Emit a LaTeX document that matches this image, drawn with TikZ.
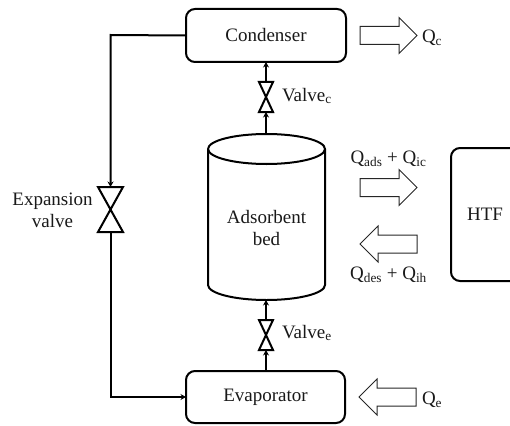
\documentclass[tikz,border=0pt]{standalone}
\usepackage{fontspec}
\setmainfont{Liberation Serif}
\usetikzlibrary{arrows.meta,shapes.arrows}
\tikzset{
  x=1pt,y=-1pt,
  flow/.style={line width=2pt,draw=black,-{Stealth[length=5.5pt,width=6pt]}},
  pipe/.style={line width=2pt,draw=black},
  unitbox/.style={draw=black,line width=2pt,rounded corners=9pt,inner sep=0pt,outer sep=0pt,font=\fontsize{19}{19}\selectfont,text=black!90},
  lab/.style={inner sep=0pt,outer sep=0pt,font=\fontsize{19}{22}\selectfont,text=black!90,align=center},
  valvebox/.style={inner sep=0pt,outer sep=0pt,minimum width=#1},
  heat/.style={single arrow,draw=black!85,line width=1pt,inner sep=0pt,outer sep=0pt,text height=17pt,text depth=0pt,minimum height=57pt,minimum width=35pt,single arrow head extend=9pt,anchor=tip},
  bowtie/.style={line width=2pt,draw=black,line join=miter}
}
\newcommand{\sbs}[1]{\textsubscript{#1}}
\begin{document}
\begin{tikzpicture}
\useasboundingbox (0,0) rectangle (510,425);
% units
\node[unitbox,minimum width=160pt,minimum height=53pt] (cond) at (266,35.5) {\raisebox{-1.5pt}{Condenser}};
\node[unitbox,minimum width=159pt,minimum height=52pt] (evap) at (265.5,397) {\raisebox{-2pt}{Evaporator}};
% adsorbent bed
\node[inner sep=0pt,outer sep=0pt,minimum width=117pt,minimum height=136pt] (bed) at (266.5,217) {};
\node[lab] (bedlab) at (266.5,228) {Adsorbent\\bed};
\draw[pipe] (bed.north west) arc[x radius=58.5pt,y radius=15pt,start angle=180,end angle=-180];
\draw[pipe] (bed.north west) -- (bed.south west) arc[x radius=58.5pt,y radius=15pt,start angle=180,end angle=360] -- (bed.north east);
\coordinate (bedtop) at (266,134);
\coordinate (bedbot) at (266,300);
% valves
\node[valvebox=14pt,minimum height=30pt] (vc) at (266,97) {};
\node[valvebox=14pt,minimum height=30pt] (ve) at (266,335) {};
\node[valvebox=25pt,minimum height=45pt] (ex) at (110.5,209.5) {};
\foreach \v in {vc,ve,ex}
  \draw[bowtie] (\v.north west) -- (\v.north east) -- (\v.south west) -- (\v.south east) -- cycle;
% connectors
\coordinate (tl) at (110.5,35);
\coordinate (bl) at (110.5,397);
\draw[flow] (cond.west) -- (tl) -- (ex.north);
\draw[flow] (ex.south) -- (bl) -- (evap.west);
\draw[flow] (bedtop) -- (vc.south);
\draw[flow] (vc.north) -- (cond.south -| vc.north);
\draw[flow] (evap.north -| ve.south) -- (ve.south);
\draw[flow] (ve.north) -- (bedbot);
% HTF
\node[lab] (htf) at (485,214) {HTF};
\coordinate (htfa) at (512,148);
\coordinate (htfb) at (451,148);
\coordinate (htfc) at (451,281);
\coordinate (htfd) at (512,281);
\draw[pipe,rounded corners=9pt] (htfa) -- (htfb) -- (htfc) -- (htfd);
% heat arrows
\node[heat] (qca) at (417,35.5) {};
\node[heat] (qaa) at (417,187.5) {};
\node[heat,shape border rotate=180] (qda) at (360,244) {};
\node[heat,shape border rotate=180] (qea) at (359,397) {};
% labels
\node[lab,anchor=west] (lc) at (422,38) {Q\sbs{c}};
\node[lab,anchor=west] (lvc) at (282,96) {Valve\sbs{c}};
\node[lab,anchor=west] (lve) at (282,333) {Valve\sbs{e}};
\node[lab,anchor=west] (le) at (422,400) {Q\sbs{e}};
\node[lab] (lads) at (388.5,159) {Q\sbs{ads} + Q\sbs{ic}};
\node[lab] (ldes) at (388.5,275) {Q\sbs{des} + Q\sbs{ih}};
\node[lab] (lex) at (52.5,210) {Expansion\\valve};
\end{tikzpicture}
\end{document}
